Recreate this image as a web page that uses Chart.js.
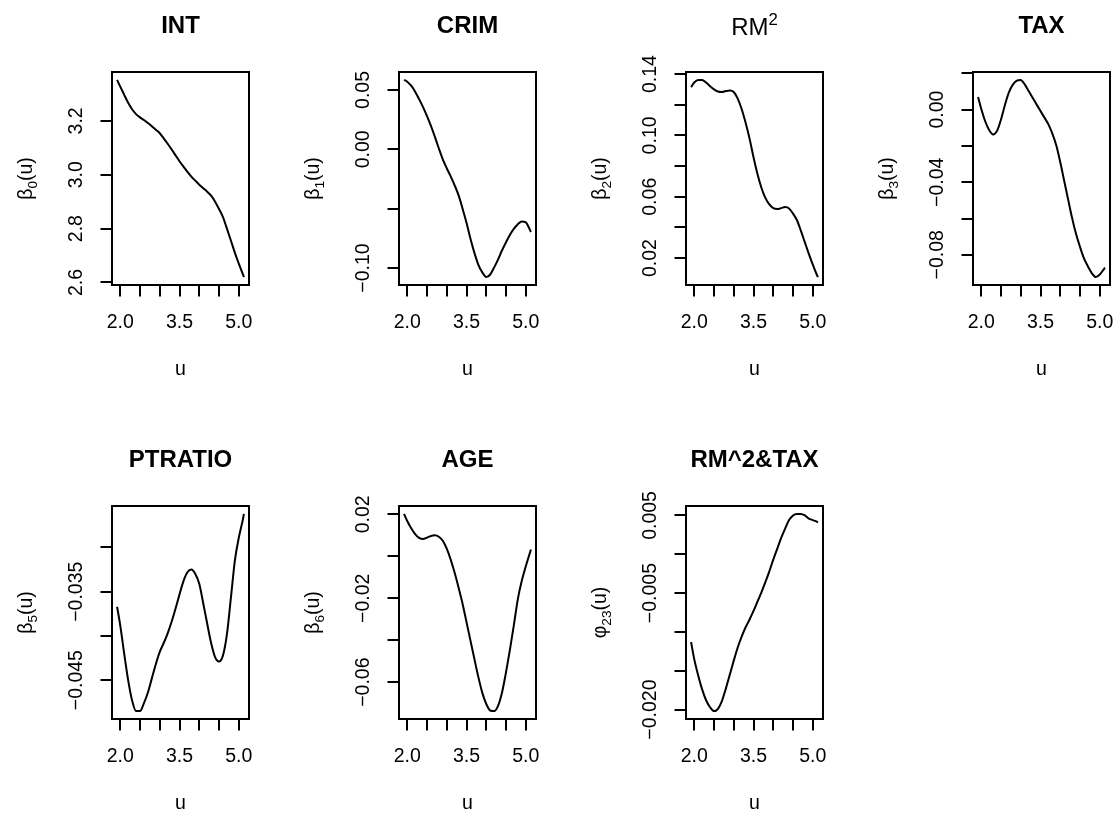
<!DOCTYPE html>
<html>
<head>
<meta charset="utf-8">
<script src="https://cdn.jsdelivr.net/npm/chart.js@4.4.1/dist/chart.umd.min.js"></script>
<style>
html,body{margin:0;padding:0;background:#fff;width:1116px;height:814px;overflow:hidden;position:relative;}
canvas{position:absolute;}
</style>
</head>
<body>
<script>
// ---------------- data ----------------
const u = [1.92, 2.0, 2.1, 2.2, 2.3, 2.4, 2.5, 2.6, 2.7, 2.8, 2.9, 3.0, 3.1, 3.2, 3.3, 3.4, 3.5,
           3.6, 3.7, 3.8, 3.9, 4.0, 4.1, 4.2, 4.3, 4.4, 4.5, 4.6, 4.7, 4.8, 4.9, 5.0, 5.1, 5.13];

const intVals = [3.352, 3.327, 3.297, 3.267, 3.243, 3.225, 3.213, 3.203, 3.192, 3.180, 3.167, 3.154,
                 3.135, 3.115, 3.094, 3.072, 3.050, 3.030, 3.011, 2.993, 2.978, 2.963, 2.950, 2.937,
                 2.922, 2.900, 2.873, 2.843, 2.800, 2.756, 2.711, 2.670, 2.632, 2.620];

const crimVals = [0.0585, 0.0570, 0.0536, 0.0486, 0.0423, 0.0356, 0.0280, 0.0198, 0.0105, 0.0007,
                  -0.0085, -0.0160, -0.0228, -0.0304, -0.0388, -0.0500, -0.0619, -0.0754, -0.0873, -0.0973,
                  -0.1037, -0.1077, -0.1055, -0.0995, -0.0927, -0.0851, -0.0783, -0.0720, -0.0668, -0.0631,
                  -0.0609, -0.0616, -0.0675, -0.0697];

const rm2Vals = [0.1315, 0.1345, 0.1362, 0.1362, 0.1345, 0.1321, 0.1300, 0.1286, 0.1283, 0.1289,
                 0.1293, 0.1283, 0.1240, 0.1172, 0.1082, 0.0979, 0.0858, 0.0749, 0.0659, 0.0593,
                 0.0550, 0.0526, 0.0520, 0.0526, 0.0533, 0.0524, 0.0490, 0.0447, 0.0377, 0.0302,
                 0.0228, 0.0158, 0.0093, 0.0076];

const taxVals = [0.0070, 0.0005, -0.0064, -0.0112, -0.0137, -0.0117, -0.0054, 0.0026, 0.0095, 0.0138,
                 0.0160, 0.0164, 0.0139, 0.0103, 0.0066, 0.0029, -0.0008, -0.0044, -0.0081, -0.0132,
                 -0.0198, -0.0290, -0.0393, -0.0496, -0.0598, -0.0686, -0.0757, -0.0820, -0.0864, -0.0902,
                 -0.0923, -0.0909, -0.0880, -0.0871];

const ptratioVals = [-0.0367, -0.0388, -0.0420, -0.0450, -0.0473, -0.0485, -0.0485, -0.0476, -0.0464, -0.0448,
                     -0.0432, -0.0418, -0.0408, -0.0397, -0.0384, -0.0369, -0.0353, -0.0338, -0.0328, -0.0325,
                     -0.0330, -0.0341, -0.0363, -0.0386, -0.0408, -0.0424, -0.0429, -0.0422, -0.0398, -0.0357,
                     -0.0315, -0.0289, -0.0269, -0.0262];

const ageVals = [0.0202, 0.0168, 0.0134, 0.0106, 0.0088, 0.0082, 0.0089, 0.0097, 0.0100, 0.0093,
                 0.0074, 0.0036, -0.0016, -0.0079, -0.0150, -0.0226, -0.0314, -0.0402, -0.0490, -0.0576,
                 -0.0651, -0.0704, -0.0735, -0.0738, -0.0712, -0.0648, -0.0552, -0.0444, -0.0326, -0.0203,
                 -0.0116, -0.0048, 0.0014, 0.0032];

const rmTaxVals = [-0.0113, -0.0135, -0.0156, -0.0174, -0.0188, -0.0197, -0.0202, -0.0199, -0.0189, -0.0173,
                   -0.0155, -0.0137, -0.0120, -0.0106, -0.0094, -0.0084, -0.0073, -0.0061, -0.0049, -0.0036,
                   -0.0022, -0.0007, 0.0007, 0.0021, 0.0033, 0.0044, 0.0050, 0.0052, 0.0052, 0.0050,
                   0.0046, 0.0044, 0.0042, 0.0041];

// tick values and tick labels
const xTicks = [2.0, 2.5, 3.0, 3.5, 4.0, 4.5, 5.0];
const xTickLabels = ['2.0', '', '', '3.5', '', '', '5.0'];

const intTicks = [2.6, 2.8, 3.0, 3.2];
const intTickLabels = ['2.6', '2.8', '3.0', '3.2'];
const crimTicks = [-0.10, -0.05, 0.00, 0.05];
const crimTickLabels = ['\u22120.10', '', '0.00', '0.05'];
const rm2Ticks = [0.02, 0.04, 0.06, 0.08, 0.10, 0.12, 0.14];
const rm2TickLabels = ['0.02', '', '0.06', '', '0.10', '', '0.14'];
const taxTicks = [-0.08, -0.06, -0.04, -0.02, 0.00, 0.02];
const taxTickLabels = ['\u22120.08', '', '\u22120.04', '', '0.00', ''];
const ptratioTicks = [-0.045, -0.040, -0.035, -0.030];
const ptratioTickLabels = ['\u22120.045', '', '\u22120.035', ''];
const ageTicks = [-0.06, -0.04, -0.02, 0.00, 0.02];
const ageTickLabels = ['\u22120.06', '', '\u22120.02', '', '0.02'];
const rmTaxTicks = [-0.020, -0.015, -0.010, -0.005, 0.000, 0.005];
const rmTaxTickLabels = ['\u22120.020', '', '', '\u22120.005', '', '0.005'];

// titles and axis labels
const titleTexts = ['INT', 'CRIM', 'RM', 'TAX', 'PTRATIO', 'AGE', 'RM^2&TAX'];
const titleSups = ['', '', '2', '', '', '', ''];
const yLabSymbols = ['\u03b2', '\u03b2', '\u03b2', '\u03b2', '\u03b2', '\u03b2', '\u03c6'];
const yLabSubs = ['0', '1', '2', '3', '5', '6', '23'];
const xLabel = 'u';

// ---------------- style / layout ----------------
const FF = '"Liberation Sans", Arial, Helvetica, sans-serif';
const TICK_FS = 19.5, TITLE_FS = 24, LAB_FS = 19.5, LW = 2, TICK_LEN = 11.5;
const PAGE_W = 1116, CELL_W = 287, CELL_H = 407;
const BOX_L = 112, BOX_W = 137, BOX_H = 213, BOX_T = [72, 99];
const Y_AX_W = 60, X_AX_H = 60;

Chart.defaults.font.family = FF;

const seriesList = [intVals, crimVals, rm2Vals, taxVals, ptratioVals, ageVals, rmTaxVals];
const tickList = [intTicks, crimTicks, rm2Ticks, taxTicks, ptratioTicks, ageTicks, rmTaxTicks];
const tickLabelList = [intTickLabels, crimTickLabels, rm2TickLabels, taxTickLabels, ptratioTickLabels, ageTickLabels, rmTaxTickLabels];

function drawParts(ctx, parts, cx, by) {
  let w = 0;
  parts.forEach(p => {
    ctx.font = (p.bold ? 'bold ' : '') + p.size + 'px ' + FF;
    p.w = ctx.measureText(p.t).width; w += p.w;
  });
  let x = cx - w / 2;
  ctx.textAlign = 'left'; ctx.textBaseline = 'alphabetic';
  parts.forEach(p => {
    ctx.font = (p.bold ? 'bold ' : '') + p.size + 'px ' + FF;
    ctx.fillText(p.t, x, by + (p.dy || 0));
    x += p.w;
  });
}

const rPanel = {
  id: 'rPanel',
  afterDraw(chart, args, o) {
    const i = o.index;
    const ctx = chart.ctx, a = chart.chartArea, ys = chart.scales.y;
    ctx.save();
    ctx.strokeStyle = '#000'; ctx.lineWidth = LW;
    ctx.strokeRect(a.left, a.top, a.right - a.left, a.bottom - a.top);
    ctx.fillStyle = '#000';
    // y tick labels (rotated, like R las=0)
    ctx.font = TICK_FS + 'px ' + FF;
    ctx.textAlign = 'center'; ctx.textBaseline = 'middle';
    tickList[i].forEach((v, k) => {
      const lab = tickLabelList[i][k];
      if (!lab) return;
      ctx.save();
      ctx.translate(a.left - 35, ys.getPixelForValue(v));
      ctx.rotate(-Math.PI / 2);
      ctx.fillText(lab, 0, 0);
      ctx.restore();
    });
    const cx = (a.left + a.right) / 2, cy = (a.top + a.bottom) / 2;
    // title
    if (titleSups[i]) {
      drawParts(ctx, [{t: titleTexts[i], size: TITLE_FS},
                      {t: titleSups[i], size: TITLE_FS * 0.7, dy: -TITLE_FS * 0.42}], cx, a.top - 37);
    } else {
      drawParts(ctx, [{t: titleTexts[i], size: TITLE_FS, bold: true}], cx, a.top - 39.5);
    }
    // x label
    drawParts(ctx, [{t: xLabel, size: LAB_FS}], cx, a.bottom + 90);
    // y label
    ctx.save();
    ctx.translate(a.left - 80, cy);
    ctx.rotate(-Math.PI / 2);
    drawParts(ctx, [{t: yLabSymbols[i], size: LAB_FS},
                    {t: yLabSubs[i], size: LAB_FS * 0.7, dy: LAB_FS * 0.25},
                    {t: '(' + xLabel + ')', size: LAB_FS}], 0, 0);
    ctx.restore();
    ctx.restore();
  }
};

const xlo = Math.min(...u), xhi = Math.max(...u), xsp = xhi - xlo;

seriesList.forEach((vals, i) => {
  const col = i % 4, row = Math.floor(i / 4);
  const cl = col * CELL_W, ct = row * CELL_H;
  const cw = Math.min(CELL_W, PAGE_W - cl), ch = CELL_H;
  const bt = BOX_T[row];
  const canvas = document.createElement('canvas');
  canvas.width = cw; canvas.height = ch;
  canvas.style.left = cl + 'px'; canvas.style.top = ct + 'px';
  canvas.style.width = cw + 'px'; canvas.style.height = ch + 'px';
  document.body.appendChild(canvas);
  const lo = Math.min(...vals), hi = Math.max(...vals), sp = hi - lo;
  const gridOpts = {drawOnChartArea: false, drawTicks: true, tickLength: TICK_LEN, color: '#000', lineWidth: LW};
  new Chart(canvas, {
    type: 'line',
    data: {
      datasets: [{
        data: u.map((x, k) => ({x: x, y: vals[k]})),
        borderColor: '#000', borderWidth: 2, pointRadius: 0,
        cubicInterpolationMode: 'monotone', fill: false
      }]
    },
    options: {
      responsive: false, animation: false, devicePixelRatio: 1,
      layout: {padding: {left: BOX_L - Y_AX_W, top: bt, right: cw - BOX_L - BOX_W, bottom: ch - bt - BOX_H - X_AX_H}},
      plugins: {legend: {display: false}, tooltip: {enabled: false}, rPanel: {index: i}},
      scales: {
        x: {
          type: 'linear', min: xlo - 0.04 * xsp, max: xhi + 0.04 * xsp,
          afterBuildTicks: s => { s.ticks = xTicks.map(v => ({value: v})); },
          afterFit: s => { s.height = X_AX_H; s.paddingLeft = 0; s.paddingRight = 0; },
          ticks: {autoSkip: false, maxRotation: 0, minRotation: 0, padding: 14, color: '#000',
                  font: {size: TICK_FS, family: FF}, callback: (v, k) => xTickLabels[k]},
          grid: gridOpts,
          border: {display: false}
        },
        y: {
          type: 'linear', min: lo - 0.04 * sp, max: hi + 0.04 * sp,
          afterBuildTicks: s => { s.ticks = tickList[i].map(v => ({value: v})); },
          afterFit: s => { s.width = Y_AX_W; s.paddingTop = 0; s.paddingBottom = 0; },
          ticks: {display: false},
          grid: gridOpts,
          border: {display: false}
        }
      }
    },
    plugins: [rPanel]
  });
});
</script>
</body>
</html>
